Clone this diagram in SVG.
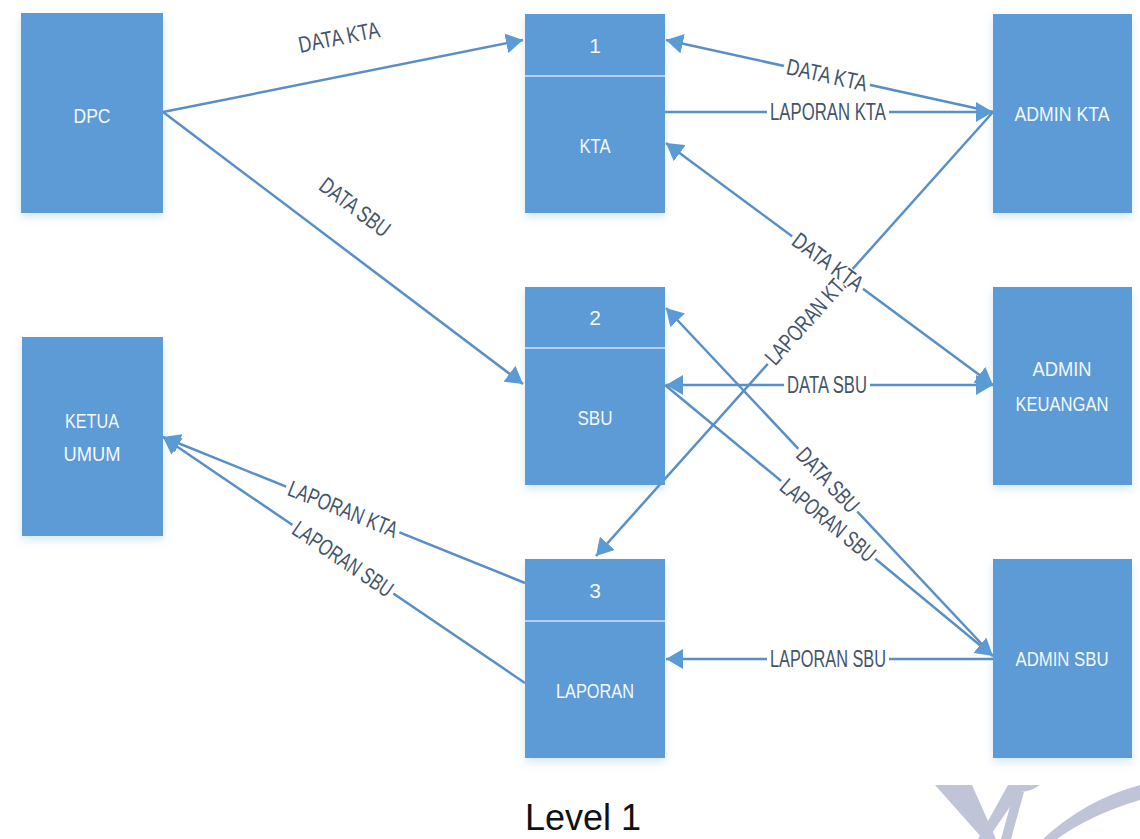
<svg xmlns="http://www.w3.org/2000/svg" width="1140" height="839" viewBox="0 0 1140 839">
<style>
.box{fill:#5b9bd5;filter:url(#sh)}
.div{stroke:#b4d0ee;stroke-width:2}
.bt{fill:#f4f8fc;font-family:"Liberation Sans",Arial,sans-serif;font-size:21px;text-anchor:middle;dominant-baseline:central}
.ln{stroke:#5a8fc6;stroke-width:2.5;fill:none}
.lb{fill:#44546a;font-family:"Liberation Sans",Arial,sans-serif;font-size:23px;text-anchor:middle;dominant-baseline:central}
.bg{fill:#ffffff}
.wm{fill:#c0c4d9}
</style>
<defs>
<filter id="sh" x="-20%" y="-20%" width="140%" height="140%">
<feDropShadow dx="0" dy="4" stdDeviation="4" flood-color="#5b9bd5" flood-opacity="0.25"/>
</filter>
<marker id="ah" viewBox="0 0 17 20" refX="17" refY="10" markerWidth="17" markerHeight="20" markerUnits="userSpaceOnUse" orient="auto-start-reverse">
<path d="M0,0 L17,10 L0,20 z" fill="#5b9bd5"/>
</marker>
</defs>
<rect width="1140" height="839" fill="#ffffff"/>

<g id="watermark">
<polygon class="wm" points="935,785 972,785 996,839 983,839"/>
<path class="wm" d="M1008,785 L1040,785 Q1030,792 1020,792 L988,839 L978,839 Z"/>
<polygon class="wm" points="1014,792 1024,792 1011,839 1001,839"/>
<path class="wm" d="M1140,785 L1140,800 Q1090,815 1057,839 L1043,839 Q1085,800 1140,785 Z"/>
</g>

<g id="connectors">
<line class="ln" x1="163" y1="112" x2="523" y2="40" marker-end="url(#ah)"/>
<line class="ln" x1="163" y1="112" x2="523" y2="384" marker-end="url(#ah)"/>
<line class="ln" x1="993" y1="112" x2="666" y2="40" marker-end="url(#ah)"/>
<line class="ln" x1="665" y1="112" x2="993" y2="112" marker-end="url(#ah)"/>
<line class="ln" x1="666" y1="143" x2="993" y2="385" marker-start="url(#ah)" marker-end="url(#ah)"/>
<line class="ln" x1="666" y1="385" x2="993" y2="385" marker-start="url(#ah)" marker-end="url(#ah)"/>
<line class="ln" x1="993" y1="112" x2="596" y2="556" marker-end="url(#ah)"/>
<line class="ln" x1="993" y1="656" x2="666" y2="308" marker-end="url(#ah)"/>
<line class="ln" x1="665" y1="385" x2="993" y2="656" marker-end="url(#ah)"/>
<line class="ln" x1="993" y1="659" x2="666" y2="659" marker-end="url(#ah)"/>
<line class="ln" x1="525" y1="583" x2="163" y2="437" marker-end="url(#ah)"/>
<line class="ln" x1="525" y1="683" x2="163" y2="437" marker-end="url(#ah)"/>

<text class="lb" transform="translate(339,37) rotate(-11.3)" textLength="82" lengthAdjust="spacingAndGlyphs">DATA KTA</text>
<text class="lb" transform="translate(355,207) rotate(37)" textLength="82" lengthAdjust="spacingAndGlyphs">DATA SBU</text>

<g transform="translate(808,318) rotate(-48.2)"><rect class="bg" x="-61" y="-9" width="122" height="18"/><text class="lb" textLength="116" lengthAdjust="spacingAndGlyphs">LAPORAN KTA</text></g>
<g transform="translate(827,75) rotate(12.4)"><rect class="bg" x="-44" y="-9" width="88" height="18"/><text class="lb" textLength="82" lengthAdjust="spacingAndGlyphs">DATA KTA</text></g>
<g transform="translate(828,112)"><rect class="bg" x="-61" y="-9" width="122" height="18"/><text class="lb" textLength="116" lengthAdjust="spacingAndGlyphs">LAPORAN KTA</text></g>
<g transform="translate(828,262) rotate(36.5)"><rect class="bg" x="-44" y="-9" width="88" height="18"/><text class="lb" textLength="82" lengthAdjust="spacingAndGlyphs">DATA KTA</text></g>
<g transform="translate(827,385)"><rect class="bg" x="-43" y="-9" width="86" height="18"/><text class="lb" textLength="80" lengthAdjust="spacingAndGlyphs">DATA SBU</text></g>
<g transform="translate(828,480) rotate(46.8)"><rect class="bg" x="-43" y="-9" width="86" height="18"/><text class="lb" textLength="80" lengthAdjust="spacingAndGlyphs">DATA SBU</text></g>
<g transform="translate(828,520) rotate(39.6)"><rect class="bg" x="-61" y="-9" width="122" height="18"/><text class="lb" textLength="116" lengthAdjust="spacingAndGlyphs">LAPORAN SBU</text></g>
<g transform="translate(828,659)"><rect class="bg" x="-61" y="-9" width="122" height="18"/><text class="lb" textLength="116" lengthAdjust="spacingAndGlyphs">LAPORAN SBU</text></g>
<g transform="translate(343,509) rotate(22)"><rect class="bg" x="-61" y="-9" width="122" height="18"/><text class="lb" textLength="116" lengthAdjust="spacingAndGlyphs">LAPORAN KTA</text></g>
<g transform="translate(343,559) rotate(34.2)"><rect class="bg" x="-61" y="-9" width="122" height="18"/><text class="lb" textLength="116" lengthAdjust="spacingAndGlyphs">LAPORAN SBU</text></g>
</g>

<g id="dpc">
<rect class="box" x="21" y="13" width="142" height="200"/>
<text class="bt" x="92" y="115" textLength="37" lengthAdjust="spacingAndGlyphs">DPC</text>
</g>
<g id="ketua-umum">
<rect class="box" x="22" y="337" width="141" height="199"/>
<text class="bt" x="92" y="420" textLength="54" lengthAdjust="spacingAndGlyphs">KETUA</text>
<text class="bt" x="92" y="453" textLength="57" lengthAdjust="spacingAndGlyphs">UMUM</text>
</g>
<g id="p1-kta">
<rect class="box" x="525" y="14" width="140" height="199"/>
<line class="div" x1="525" y1="76" x2="665" y2="76"/>
<text class="bt" x="595" y="45">1</text>
<text class="bt" x="595" y="145" textLength="31" lengthAdjust="spacingAndGlyphs">KTA</text>
</g>
<g id="p2-sbu">
<rect class="box" x="525" y="287" width="140" height="198"/>
<line class="div" x1="525" y1="348" x2="665" y2="348"/>
<text class="bt" x="595" y="317">2</text>
<text class="bt" x="595" y="417" textLength="35" lengthAdjust="spacingAndGlyphs">SBU</text>
</g>
<g id="p3-laporan">
<rect class="box" x="525" y="559" width="140" height="199"/>
<line class="div" x1="525" y1="621" x2="665" y2="621"/>
<text class="bt" x="595" y="590">3</text>
<text class="bt" x="595" y="690" textLength="78" lengthAdjust="spacingAndGlyphs">LAPORAN</text>
</g>
<g id="admin-kta">
<rect class="box" x="993" y="14" width="139" height="199"/>
<text class="bt" x="1062" y="113" textLength="95" lengthAdjust="spacingAndGlyphs">ADMIN KTA</text>
</g>
<g id="admin-keuangan">
<rect class="box" x="993" y="287" width="139" height="198"/>
<text class="bt" x="1062" y="368" textLength="59" lengthAdjust="spacingAndGlyphs">ADMIN</text>
<text class="bt" x="1062" y="403" textLength="93" lengthAdjust="spacingAndGlyphs">KEUANGAN</text>
</g>
<g id="admin-sbu">
<rect class="box" x="993" y="559" width="139" height="199"/>
<text class="bt" x="1062" y="658" textLength="93" lengthAdjust="spacingAndGlyphs">ADMIN SBU</text>
</g>

<text x="525" y="830" font-family="'Liberation Sans',Arial,sans-serif" font-size="36" fill="#111111">Level 1</text>
</svg>
